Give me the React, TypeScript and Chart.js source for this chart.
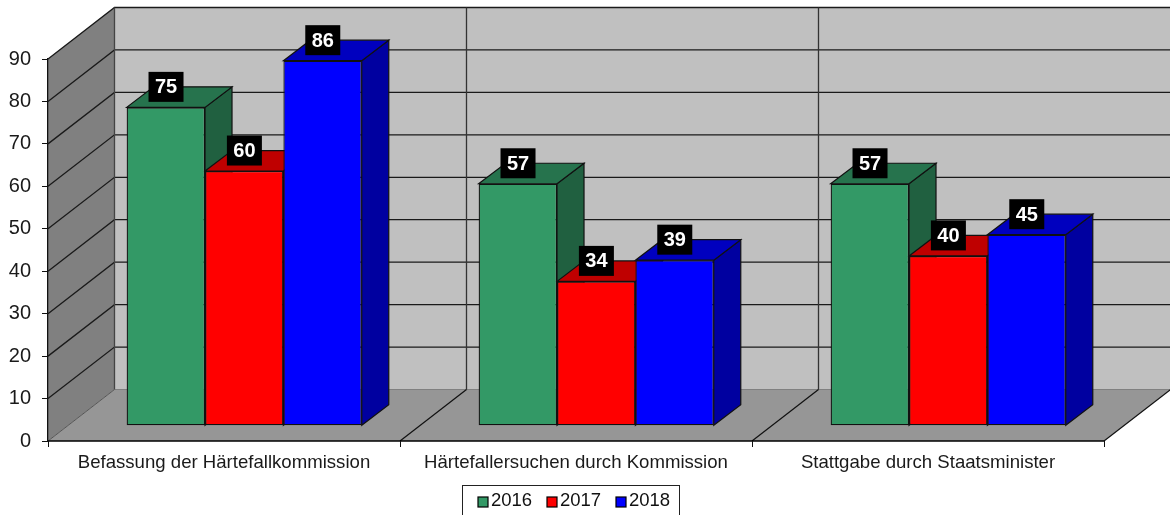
import React, { useEffect, useRef } from "react";
import { Chart, registerables } from "chart.js";

Chart.register(...registerables);

const categories = [
  "Befassung der Härtefallkommission",
  "Härtefallersuchen durch Kommission",
  "Stattgabe durch Staatsminister",
];
const years = ["2016", "2017", "2018"];
const values2016 = [75, 57, 57];
const values2017 = [60, 34, 40];
const values2018 = [86, 39, 45];
const yTicks = [0, 10, 20, 30, 40, 50, 60, 70, 80, 90];

const front = ["#339966", "#FF0000", "#0000FF"];
const top = ["#26734D", "#BF0000", "#0000BF"];
const side = ["#206040", "#A00000", "#0000A0"];

const FONT = '"Liberation Sans", Arial, sans-serif';
const DEPTH_X = 66.5; // wall depth
const DEPTH_Y = 51.5;
const BAR_DX = 27; // bar depth
const BAR_DY = 20.5;
const OFF_X = 20.2; // bar position on the floor
const OFF_Y = -15.3;

function poly(ctx: CanvasRenderingContext2D, pts: number[][], fill: string | null, stroke: string | null, lw = 1) {
  ctx.beginPath();
  pts.forEach((p, i) => (i ? ctx.lineTo(p[0], p[1]) : ctx.moveTo(p[0], p[1])));
  if (fill) {
    ctx.closePath();
    ctx.fillStyle = fill;
    ctx.fill();
  }
  if (stroke) {
    ctx.strokeStyle = stroke;
    ctx.lineWidth = lw;
    ctx.stroke();
  }
}

const wallsPlugin = {
  id: "walls",
  beforeDraw(chart: any) {
    const { ctx, chartArea: a, scales } = chart;
    const { left, right, top: t, bottom } = a;
    const bx = left + DEPTH_X;
    const by = bottom - DEPTH_Y;
    ctx.save();
    // back wall
    poly(ctx, [[bx, t - DEPTH_Y], [right + DEPTH_X, t - DEPTH_Y], [right + DEPTH_X, by], [bx, by]], "#C0C0C0", null);
    // left wall
    poly(ctx, [[left, t], [bx, t - DEPTH_Y], [bx, by], [left, bottom]], "#808080", null);
    // floor
    poly(ctx, [[left, bottom], [bx, by], [right + DEPTH_X, by], [right, bottom]], "#969696", null);
    // grid from the value scale
    yTicks.forEach((v) => {
      const y = scales.y.getPixelForValue(v);
      if (v === 0) {
        poly(ctx, [[left, y], [bx, y - DEPTH_Y]], null, "#555555", 1);
        poly(ctx, [[bx, y - DEPTH_Y], [right + DEPTH_X, y - DEPTH_Y]], null, "#808080", 1);
      } else {
        poly(ctx, [[left, y], [bx, y - DEPTH_Y], [right + DEPTH_X, y - DEPTH_Y]], null, "#1a1a1a", 1.3);
      }
    });
    // wall corner
    poly(ctx, [[bx, t - DEPTH_Y], [bx, by]], null, "#444444", 1.3);
    // category separators
    const w = (right - left) / categories.length;
    for (let i = 1; i <= categories.length; i++) {
      const x = left + i * w;
      if (i < categories.length) {
        poly(ctx, [[x + DEPTH_X, t - DEPTH_Y], [x + DEPTH_X, by]], null, "#333333", 1.3);
      }
      poly(ctx, [[x, bottom], [x + DEPTH_X, by]], null, "#111111", 1.2);
    }
    // front-bottom edge
    poly(ctx, [[left, bottom], [right, bottom]], null, "#000000", 1.6);
    ctx.restore();
  },
  beforeDatasetsDraw(chart: any) {
    const { ctx } = chart;
    ctx.save();
    ctx.translate(OFF_X, OFF_Y);
    // side and top faces, painted back to front
    chart.data.datasets.forEach((_: any, di: number) => {
      chart.getDatasetMeta(di).data.forEach((bar: any) => {
        const l = bar.x - bar.width / 2;
        const r = bar.x + bar.width / 2;
        poly(ctx, [[r, bar.y], [r + BAR_DX, bar.y - BAR_DY], [r + BAR_DX, bar.base - BAR_DY], [r, bar.base]], side[di], "#111111", 1.2);
        poly(ctx, [[l, bar.y], [l + BAR_DX, bar.y - BAR_DY], [r + BAR_DX, bar.y - BAR_DY], [r, bar.y]], top[di], "#111111", 1.2);
      });
    });
  },
  afterDatasetsDraw(chart: any) {
    const { ctx } = chart;
    ctx.restore();
    ctx.save();
    // value labels
    ctx.font = `bold 20px ${FONT}`;
    ctx.textAlign = "center";
    ctx.textBaseline = "middle";
    chart.data.datasets.forEach((ds: any, di: number) => {
      chart.getDatasetMeta(di).data.forEach((bar: any, i: number) => {
        const cx = bar.x + OFF_X + 0.2;
        const cy = bar.y + OFF_Y - 20.5;
        ctx.fillStyle = "#000000";
        ctx.fillRect(cx - 17.5, cy - 15, 35, 30);
        ctx.fillStyle = "#FFFFFF";
        ctx.fillText(String(ds.data[i]), cx, cy + 1);
      });
    });
    // legend
    const boxL = 462.5;
    const boxT = 485.5;
    ctx.strokeStyle = "#222222";
    ctx.lineWidth = 1;
    ctx.fillStyle = "#FFFFFF";
    ctx.fillRect(boxL, boxT, 217, 40);
    ctx.strokeRect(boxL, boxT, 217, 40);
    ctx.font = `18.5px ${FONT}`;
    ctx.textAlign = "left";
    ctx.textBaseline = "middle";
    chart.data.datasets.forEach((ds: any, di: number) => {
      const x = 478 + di * 69;
      ctx.fillStyle = front[di];
      ctx.fillRect(x, 497, 10, 10);
      ctx.strokeStyle = "#000000";
      ctx.lineWidth = 1.2;
      ctx.strokeRect(x, 497, 10, 10);
      ctx.fillStyle = "#111111";
      ctx.fillText(ds.label, x + 13, 501);
    });
    ctx.restore();
  },
};

export default function App() {
  const ref = useRef<HTMLCanvasElement>(null);
  useEffect(() => {
    document.body.style.margin = "0";
    const series = [values2016, values2017, values2018];
    const chart = new Chart(ref.current!, {
      type: "bar",
      data: {
        labels: categories,
        datasets: years.map((label, i) => ({
          label,
          data: series[i],
          backgroundColor: front[i],
          borderColor: "#111111",
          borderWidth: 1.3,
          borderSkipped: false,
          categoryPercentage: 0.668,
          barPercentage: 1,
          clip: false as any,
        })),
      },
      options: {
        responsive: false,
        animation: false,
        devicePixelRatio: 1,
        layout: { padding: { top: 59, right: 66, left: 0, bottom: 0 } },
        plugins: { legend: { display: false }, tooltip: { enabled: false } },
        scales: {
          x: {
            offset: true,
            afterFit: (s: any) => {
              s.height = 74;
            },
            border: { display: false },
            grid: { display: true, drawOnChartArea: false, drawTicks: true, tickLength: 6, color: "#111111", offset: true },
            ticks: { color: "#1a1a1a", font: { family: FONT, size: 18.6 }, padding: 5, maxRotation: 0, autoSkip: false },
          },
          y: {
            min: 0,
            max: 90,
            afterFit: (s: any) => {
              s.width = 48;
            },
            afterBuildTicks: (s: any) => {
              s.ticks = yTicks.map((value) => ({ value }));
            },
            border: { display: true, color: "#111111", width: 1.3 },
            grid: { display: true, drawOnChartArea: false, drawTicks: true, tickLength: 6, color: "#111111" },
            ticks: { color: "#1a1a1a", font: { family: FONT, size: 20 }, padding: 11 },
          },
        },
      },
      plugins: [wallsPlugin],
    } as any);
    return () => chart.destroy();
  }, []);
  return <canvas ref={ref} width={1170} height={515} style={{ display: "block" }} />;
}
